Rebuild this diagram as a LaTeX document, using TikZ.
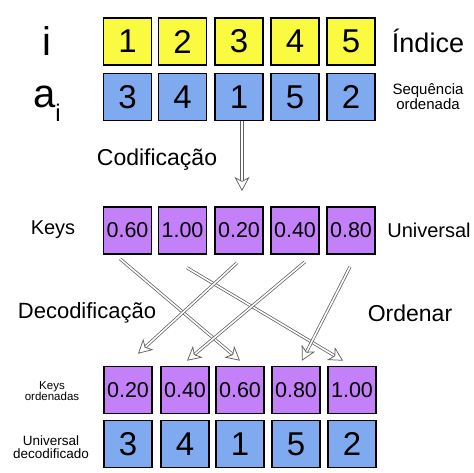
\documentclass[tikz,border=0pt]{standalone}
\usepackage{fontspec}
\setmainfont{Liberation Sans}
\usetikzlibrary{arrows.meta}
\definecolor{cyel}{RGB}{250,250,64}
\definecolor{cblu}{RGB}{128,170,240}
\definecolor{cpur}{RGB}{196,128,248}
\begin{document}
\begin{tikzpicture}[x=1pt,y=-1pt,
  box/.style={draw=black, line width=1.6pt, minimum width=48pt, minimum height=47pt, inner sep=0pt, anchor=center},
  ybox/.style={box, fill=cyel, font=\fontsize{33}{33}\selectfont},
  bbox/.style={box, fill=cblu, font=\fontsize{33}{33}\selectfont},
  pbox/.style={box, fill=cpur, font=\fontsize{21.5}{21.5}\selectfont},
  lab/.style={inner sep=0pt, anchor=center, align=center},
  hol/.style={draw=black!62, line width=0.75pt, double=white, double distance=1.6pt, -{Stealth[open, length=14pt, width=15pt, inset=4pt]}}
]
\useasboundingbox[fill=white] (0,0) rectangle (474,473);
% top rows
\foreach \n/\x/\v in {1/127.5/1,2/182.5/2,3/239/3,4/295/4,5/351/5}{
  \node[ybox] (y\n) at (\x,41.5) {\v};
}
\foreach \n/\x/\v in {1/127.5/3,2/182.5/4,3/239/1,4/295/5,5/351/2}{
  \node[bbox] (a\n) at (\x,97) {\v};
}
\foreach \n/\x/\v in {1/127.5/0.60,2/182.5/1.00,3/239/0.20,4/295/0.40,5/351/0.80}{
  \node[pbox] (k\n) at (\x,230.5) {\v};
}
\foreach \n/\x/\v in {1/128/0.20,2/185/0.40,3/240/0.60,4/296/0.80,5/352/1.00}{
  \node[pbox] (s\n) at (\x,390) {\v};
}
\foreach \n/\x/\v in {1/128/3,2/185/4,3/240/1,4/296/5,5/352/2}{
  \node[bbox] (u\n) at (\x,444) {\v};
}
% labels
\node[lab, font=\fontsize{40}{40}\selectfont] (li) at (47,41) {i};
\node[lab, font=\fontsize{40}{40}\selectfont, anchor=base] (la) at (47,108) {a\raisebox{-14pt}{\fontsize{24}{24}\selectfont i}};
\node[lab, font=\fontsize{27}{27}\selectfont] (lind) at (428,41) {Índice};
\node[lab, font=\fontsize{15}{15}\selectfont] (lseq) at (428,97) {Sequência\\ordenada};
\node[lab, font=\fontsize{23}{23}\selectfont] (lcod) at (157,160) {Codificação};
\node[lab, font=\fontsize{20}{20}\selectfont] (lkeys) at (53,230) {Keys};
\node[lab, font=\fontsize{20}{20}\selectfont] (luni) at (429,230) {Universal};
\node[lab, font=\fontsize{22}{22}\selectfont] (ldec) at (87,313) {Decodificação};
\node[lab, font=\fontsize{23}{23}\selectfont] (lord) at (410,313) {Ordenar};
\node[lab, font=\fontsize{11.5}{11}\selectfont] (lko) at (52,391) {Keys\\ordenadas};
\node[lab, font=\fontsize{13.5}{13}\selectfont] (lud) at (51,447) {Universal\\decodificado};
% arrows
\coordinate (ce) at (242,191);
\draw[hol] ([xshift=3pt]a3.south) -- (ce);
\draw[hol] ([xshift=-7.5pt,yshift=-4pt]k1.south) -- ([yshift=5pt]s3.north);
\draw[hol] ([xshift=4.5pt,yshift=-13pt]k2.south) -- ([xshift=-9pt,yshift=5pt]s5.north);
\draw[hol] ([xshift=-2pt,yshift=-8pt]k3.south) -- ([xshift=10pt,yshift=12pt]s1.north);
\draw[hol] ([xshift=10pt,yshift=-7pt]k4.south) -- ([xshift=2pt,yshift=5pt]s2.north);
\draw[hol] ([xshift=-1pt,yshift=-12pt]k5.south) -- ([xshift=6pt,yshift=5pt]s4.north);
\end{tikzpicture}
\end{document}
